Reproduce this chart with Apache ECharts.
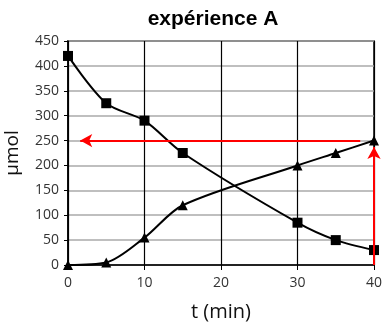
<!DOCTYPE html>
<html><head><meta charset="utf-8">
<script src="https://cdn.jsdelivr.net/npm/echarts@6/dist/echarts.min.js"></script>
<style>html,body{margin:0;padding:0;background:#fff}#c{width:382px;height:324px}</style>
</head><body><div id="c"></div>
<script>
const times = [0, 5, 10, 15, 30, 35, 40];
const squareValues = [420, 325, 290, 225, 85, 50, 30];
const triangleValues = [0, 5, 55, 120, 200, 225, 250];
const hArrow = [[38.2, 250], [1.6, 250]];
const vArrow = [[40, 0], [40, 237]];
const xTicks = [0, 10, 20, 30, 40];

const chart = echarts.init(document.getElementById('c'));
const pair = (xs, ys) => xs.map((x, i) => [x, ys[i]]);
chart.setOption({
  animation: false,
  title: { text: 'expérience A', left: 208, textAlign: 'center', top: 4,
    textStyle: { fontFamily: 'Liberation Sans', fontWeight: 'bold', fontSize: 21, color: '#000' } },
  grid: { left: 68, right: 8, top: 41, bottom: 59, show: true, borderColor: '#000', borderWidth: 1.5,
    backgroundColor: 'transparent', containLabel: false, outerBoundsMode: 'none' },
  xAxis: { type: 'value', min: 0, max: 40, interval: 10,
    name: 't (min)', nameLocation: 'middle', nameGap: 37,
    nameTextStyle: { fontFamily: 'Open Sans', fontSize: 20, color: '#111' },
    axisLine: { show: true, lineStyle: { color: '#000', width: 1.5 } },
    axisTick: { show: true, length: 5, lineStyle: { color: '#000' } },
    axisLabel: { fontFamily: 'Open Sans', fontSize: 14, color: '#333', margin: 11,
      formatter: v => xTicks.includes(v) ? String(v) : '' },
    splitLine: { show: true, lineStyle: { color: '#000', width: 1.2 } } },
  yAxis: { type: 'value', min: 0, max: 450, interval: 50,
    name: 'µmol', nameLocation: 'middle', nameGap: 46, nameRotate: 90,
    nameTextStyle: { fontFamily: 'Open Sans', fontSize: 19, color: '#111' },
    axisLine: { show: true, lineStyle: { color: '#000', width: 1.5 } },
    axisTick: { show: true, length: 4, lineStyle: { color: '#000' } },
    axisLabel: { fontFamily: 'Open Sans', fontSize: 14, color: '#333', margin: 9 },
    splitLine: { show: true, lineStyle: { color: '#aaa', width: 1.5 } } },
  series: [
    { type: 'line', data: pair(times, squareValues), smooth: 0.3, symbol: 'rect', symbolSize: 10,
      clip: false, lineStyle: { color: '#000', width: 2 }, itemStyle: { color: '#000' } },
    { type: 'line', data: pair(times, triangleValues), smooth: 0.3, symbol: 'triangle', symbolSize: 10,
      clip: false, lineStyle: { color: '#000', width: 2 }, itemStyle: { color: '#000' },
      markLine: { silent: true, symbol: ['none', 'arrow'], symbolSize: [10, 12],
        label: { show: false }, lineStyle: { color: '#f00', width: 2, type: 'solid' },
        data: [
          [{ coord: hArrow[0] }, { coord: hArrow[1] }],
          [{ coord: vArrow[0] }, { coord: vArrow[1] }]
        ] } }
  ]
});
</script></body></html>
